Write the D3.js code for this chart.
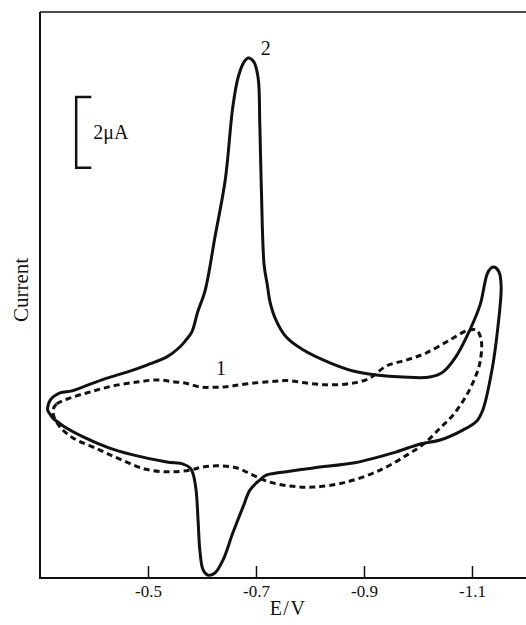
<!DOCTYPE html>
<html>
<head>
<meta charset="utf-8">
<script src="https://cdn.jsdelivr.net/npm/d3@7"></script>
<style>
  html, body { margin: 0; padding: 0; background: #fff; }
  svg { display: block; }
  text { font-family: "Liberation Serif", "Times New Roman", serif; fill: #111; -webkit-font-smoothing: antialiased; }
</style>
</head>
<body>
<svg id="chart" width="526" height="625"></svg>
<script>
// ---- Data (E in V, current in µA, arbitrary zero) ----
const xTicks = [-0.5, -0.7, -0.9, -1.1];
const xTickLabels = ["-0.5", "-0.7", "-0.9", "-1.1"];
const xLabel = "E/V";
const yLabel = "Current";
const scaleBarLabel = "2\u03bcA";
const scaleBarValues = [6.6, 8.6]; // 2 µA span

// Curve 2 (solid)
const curve2E = [-0.314,-0.319,-0.337,-0.359,-0.393,-0.424,-0.461,-0.498,-0.535,-0.559,-0.570,-0.581,-0.592,-0.606,-0.624,-0.643,-0.657,-0.667,-0.678,-0.686,-0.696,-0.704,-0.707,-0.710,-0.715,-0.721,-0.726,-0.737,-0.756,-0.787,-0.837,-0.880,-0.922,-0.972,-1.022,-1.046,-1.070,-1.096,-1.115,-1.128,-1.135,-1.141,-1.150,-1.154,-1.148,-1.137,-1.120,-1.109,-1.083,-1.041,-1.004,-0.959,-0.906,-0.880,-0.806,-0.744,-0.719,-0.707,-0.689,-0.676,-0.657,-0.639,-0.624,-0.611,-0.602,-0.596,-0.593,-0.589,-0.583,-0.578,-0.565,-0.535,-0.472,-0.424,-0.380,-0.343,-0.324,-0.316];
const curve2I = [-0.25,0.03,0.23,0.29,0.48,0.65,0.82,1.02,1.25,1.53,1.72,1.95,2.52,3.14,4.64,6.25,8.31,9.16,9.59,9.70,9.59,9.13,7.86,5.97,3.85,3.28,2.80,2.29,1.81,1.45,1.08,0.85,0.74,0.68,0.68,0.82,1.25,2.01,2.72,3.59,3.76,3.79,3.65,3.23,2.10,0.88,-0.25,-0.56,-0.82,-1.10,-1.21,-1.44,-1.66,-1.75,-1.89,-2.02,-2.09,-2.23,-2.51,-2.99,-3.73,-4.49,-4.86,-4.92,-4.77,-4.21,-3.45,-2.51,-2.03,-1.89,-1.78,-1.72,-1.52,-1.30,-1.01,-0.70,-0.48,-0.31];

// Curve 1 (dashed)
const curve1E = [-0.324,-0.331,-0.356,-0.393,-0.435,-0.480,-0.517,-0.546,-0.572,-0.596,-0.619,-0.641,-0.661,-0.689,-0.726,-0.757,-0.794,-0.831,-0.865,-0.887,-0.911,-0.941,-0.978,-1.015,-1.059,-1.089,-1.108,-1.117,-1.115,-1.104,-1.087,-1.065,-1.041,-1.013,-0.980,-0.930,-0.867,-0.806,-0.763,-0.726,-0.694,-0.665,-0.633,-0.602,-0.578,-0.541,-0.494,-0.448,-0.406,-0.361,-0.337,-0.326];
const curve1I = [-0.25,-0.08,0.09,0.26,0.43,0.54,0.60,0.55,0.50,0.40,0.39,0.40,0.44,0.50,0.55,0.58,0.51,0.46,0.48,0.53,0.65,0.99,1.16,1.36,1.73,1.98,2.01,1.73,1.11,0.60,0.09,-0.39,-0.76,-1.18,-1.52,-1.95,-2.29,-2.43,-2.40,-2.29,-2.09,-1.89,-1.83,-1.86,-1.95,-2.00,-1.92,-1.64,-1.35,-1.04,-0.73,-0.45];

// Curve labels (position in data units)
const curveLabels = [
  { text: "2", E: -0.718, I: 9.78 },
  { text: "1", E: -0.635, I: 0.74 }
];

// ---- Layout ----
const svg = d3.select("#chart");
const mLeft = 40, mRight = 526, mTop = 12, mBottom = 578;

const x = d3.scaleLinear().domain([-0.3, -1.2]).range([mLeft, mRight]);
const y = d3.scaleLinear().domain([-5, 11]).range([mBottom, mTop]);

const line = d3.line()
  .x(d => x(d[0]))
  .y(d => y(d[1]))
  .curve(d3.curveCatmullRomClosed.alpha(0.5));

const pts1 = curve1E.map((e, i) => [e, curve1I[i]]);
const pts2 = curve2E.map((e, i) => [e, curve2I[i]]);

// dashed curve 1
svg.append("path")
  .attr("d", line(pts1))
  .attr("fill", "none")
  .attr("stroke", "#111")
  .attr("stroke-width", 3)
  .attr("stroke-dasharray", "6,4");

// solid curve 2
svg.append("path")
  .attr("d", line(pts2))
  .attr("fill", "none")
  .attr("stroke", "#111")
  .attr("stroke-width", 3)
  .attr("stroke-linejoin", "round");

// ---- Axes / frame ----
const xAxis = d3.axisBottom(x)
  .tickValues(xTicks)
  .tickFormat((d, i) => xTickLabels[i])
  .tickSizeInner(-12)
  .tickSizeOuter(0)
  .tickPadding(7);

const gx = svg.append("g")
  .attr("transform", `translate(0,${mBottom})`)
  .call(xAxis);
gx.select(".domain").remove();
gx.selectAll(".tick line").attr("stroke", "#111").attr("stroke-width", 1.5);
gx.selectAll(".tick text")
  .attr("font-size", 17)
  .attr("font-family", "Liberation Serif, serif")
  .attr("fill", "#111")
  .attr("y", 19)
  .attr("dy", 0);

// frame lines
svg.append("line").attr("x1", mLeft).attr("x2", mRight).attr("y1", mBottom).attr("y2", mBottom)
  .attr("stroke", "#111").attr("stroke-width", 2.2);
svg.append("line").attr("x1", mLeft).attr("x2", mLeft).attr("y1", mTop).attr("y2", mBottom + 1)
  .attr("stroke", "#111").attr("stroke-width", 2);
svg.append("line").attr("x1", mLeft).attr("x2", mRight).attr("y1", mTop).attr("y2", mTop)
  .attr("stroke", "#111").attr("stroke-width", 1.5);

// axis titles
svg.append("text")
  .attr("x", 288).attr("y", 615)
  .attr("text-anchor", "middle")
  .attr("font-size", 20)
  .attr("letter-spacing", 1.5)
  .text(xLabel);

svg.append("text")
  .attr("transform", `translate(28,290) rotate(-90)`)
  .attr("text-anchor", "middle")
  .attr("font-size", 21)
  .text(yLabel);

// scale bar
const sbX = x(-0.367), sbCap = x(-0.395);
const sbTop = y(scaleBarValues[1]), sbBot = y(scaleBarValues[0]);
svg.append("path")
  .attr("d", `M${sbCap},${sbTop}H${sbX}V${sbBot}H${sbCap}`)
  .attr("fill", "none")
  .attr("stroke", "#111")
  .attr("stroke-width", 2.5);
svg.append("text")
  .attr("x", sbCap + 2)
  .attr("y", (sbTop + sbBot) / 2 + 7)
  .attr("font-size", 20)
  .text(scaleBarLabel);

// curve labels
svg.selectAll("text.clabel")
  .data(curveLabels)
  .enter().append("text")
  .attr("class", "clabel")
  .attr("x", d => x(d.E))
  .attr("y", d => y(d.I))
  .attr("text-anchor", "middle")
  .attr("font-size", 20)
  .text(d => d.text);
</script>
</body>
</html>
